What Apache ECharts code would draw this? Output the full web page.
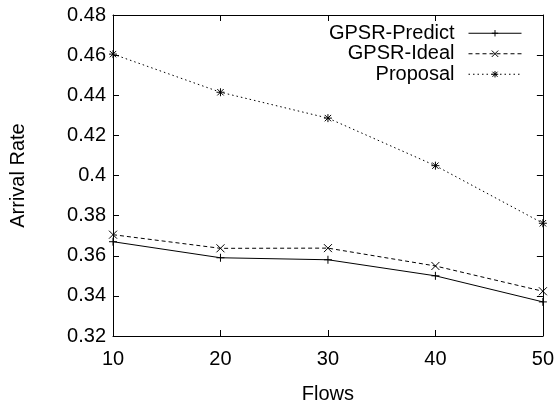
<!DOCTYPE html>
<html>
<head>
<meta charset="utf-8">
<script src="https://cdn.jsdelivr.net/npm/echarts@6/dist/echarts.min.js"></script>
<style>
html,body{margin:0;padding:0;background:#fff;}
#chart{width:557px;height:409px;}
</style>
</head>
<body>
<div id="chart"></div>
<script>
// Arrival rate per number of flows
const flows = [10, 20, 30, 40, 50];
const gpsrPredict = [0.367, 0.359, 0.358, 0.350, 0.337];
const gpsrIdeal = [0.3705, 0.3637, 0.3638, 0.3549, 0.3423];
const proposal = [0.4605, 0.4415, 0.4286, 0.4049, 0.3762];
const seriesNames = ['GPSR-Predict', 'GPSR-Ideal', 'Proposal'];

const FONT = 'Liberation Sans, Arial, Helvetica, sans-serif';
const plusPath = 'path://M0,5 L10,5 M5,0 L5,10';
const crossPath = 'path://M1,1 L9,9 M9,1 L1,9';
const starPath = 'path://M0,5 L10,5 M5,0 L5,10 M1,1 L9,9 M9,1 L1,9';

function pairs(ys) { return flows.map((x, i) => [x, ys[i]]); }

function lineSeries(name, ys, symbol, dash) {
  return {
    name: name,
    type: 'line',
    data: pairs(ys),
    symbol: symbol,
    symbolSize: 8,
    showAllSymbol: true,
    lineStyle: { color: '#000', width: 1, type: dash },
    itemStyle: { color: '#000', borderColor: '#000', borderWidth: 1 },
    emphasis: { disabled: true },
    animation: false
  };
}

const chart = echarts.init(document.getElementById('chart'));
chart.setOption({
  backgroundColor: '#fff',
  animation: false,
  grid: { left: 109, right: 12, top: 15, bottom: 64 },
  legend: {
    data: seriesNames,
    orient: 'vertical',
    right: 30,
    top: 18,
    align: 'right',
    itemWidth: 53,
    itemHeight: 8,
    itemGap: 0,
    lineStyle: { width: 1 },
    itemStyle: { borderWidth: 1 },
    textStyle: { fontFamily: FONT, fontSize: 20, lineHeight: 20.5, color: '#000', padding: [0, 9, 0, 0] }
  },
  xAxis: [{
    type: 'value', min: 10, max: 50, interval: 10,
    name: 'Flows', nameLocation: 'middle', nameGap: 48,
    nameTextStyle: { fontFamily: FONT, fontSize: 20, color: '#000' },
    axisLine: { lineStyle: { color: '#000', width: 1 } },
    axisTick: { inside: true, length: 6, lineStyle: { color: '#000' } },
    axisLabel: { fontFamily: FONT, fontSize: 20, color: '#000', margin: 13 },
    splitLine: { show: false }
  }, {
    type: 'value', min: 10, max: 50, interval: 10, position: 'top',
    axisLine: { lineStyle: { color: '#000', width: 1 } },
    axisTick: { inside: true, length: 6, lineStyle: { color: '#000' } },
    axisLabel: { show: false },
    splitLine: { show: false }
  }],
  yAxis: [{
    type: 'value', min: 0.32, max: 0.48, interval: 0.02,
    name: 'Arrival Rate', nameLocation: 'middle', nameGap: 85, nameRotate: 90,
    nameTextStyle: { fontFamily: FONT, fontSize: 20, color: '#000' },
    axisLine: { show: true, lineStyle: { color: '#000', width: 1 } },
    axisTick: { show: true, inside: true, length: 6, lineStyle: { color: '#000' } },
    axisLabel: {
      fontFamily: FONT, fontSize: 20, color: '#000', margin: 7,
      formatter: v => String(parseFloat(v.toFixed(2)))
    },
    splitLine: { show: false }
  }, {
    type: 'value', min: 0.32, max: 0.48, interval: 0.02, position: 'right',
    axisLine: { show: true, lineStyle: { color: '#000', width: 1 } },
    axisTick: { show: true, inside: true, length: 6, lineStyle: { color: '#000' } },
    axisLabel: { show: false },
    splitLine: { show: false }
  }],
  series: [
    lineSeries(seriesNames[0], gpsrPredict, plusPath, 'solid'),
    lineSeries(seriesNames[1], gpsrIdeal, crossPath, [4, 3]),
    lineSeries(seriesNames[2], proposal, starPath, [1.5, 3])
  ]
});
</script>
</body>
</html>
